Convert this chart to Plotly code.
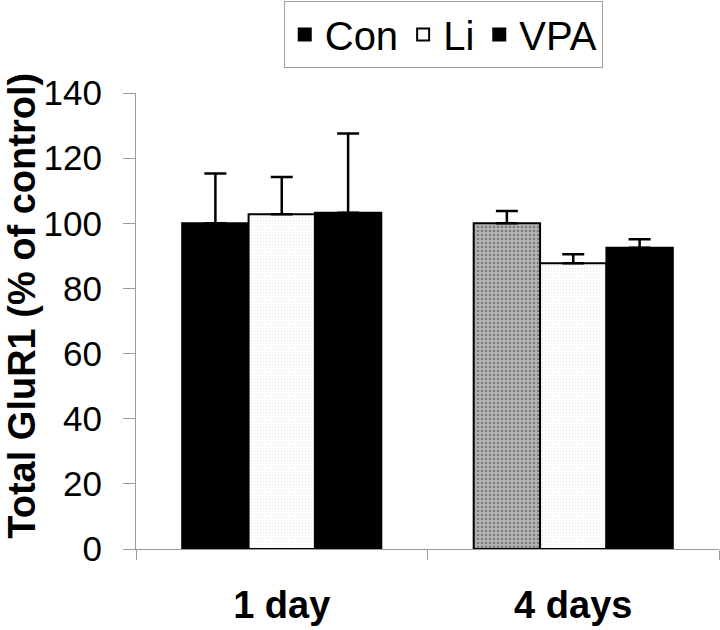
import plotly.graph_objects as go

categories = ["1 day", "4 days"]
series_names = ["Con", "Li", "VPA"]
con_values = [100.0, 100.0]
li_values = [102.8, 87.7]
vpa_values = [103.2, 92.5]
con_err = [15.3, 3.8]
li_err = [11.4, 2.8]
vpa_err = [24.4, 2.6]
y_ticks = [0, 20, 40, 60, 80, 100, 120, 140]
y_title = "Total GluR1 (% of control)"

FONT = "Liberation Sans, Arial, sans-serif"

fig = go.Figure()

def add_bar(name, vals, errs, color, pattern):
    fig.add_trace(go.Bar(
        name=name, x=categories, y=vals,
        marker=dict(color=color, line=dict(color="black", width=2), pattern=pattern),
        error_y=dict(type="data", symmetric=False, array=errs, arrayminus=[0] * len(errs),
                     color="black", thickness=2.5, width=11),
    ))

add_bar(series_names[0], con_values, con_err, ["#000000", "#b4b4b4"],
        dict(shape=["", "."], fgcolor="#666666", size=4, solidity=0.35, fillmode="overlay"))
add_bar(series_names[1], li_values, li_err, "#ffffff",
        dict(shape=".", fgcolor="#d8d8d8", size=3, solidity=0.2, fillmode="overlay"))
add_bar(series_names[2], vpa_values, vpa_err, "#000000", None)

fig.update_layout(
    width=720, height=630,
    margin=dict(l=136, r=1, t=93, b=81, autoexpand=False),
    paper_bgcolor="white", plot_bgcolor="white",
    barmode="group", bargap=0.317, bargroupgap=0,
    font=dict(family=FONT, color="black"),
    legend=dict(orientation="h", x=0.527, xanchor="center", y=1.202, yanchor="top",
                font=dict(size=40, family=FONT), bordercolor="#a0a0a0", borderwidth=1,
                bgcolor="white", itemsizing="constant"),
    showlegend=True,
    annotations=[dict(
        text="<b>" + y_title + "</b>", textangle=-90, xref="paper", yref="paper",
        x=-0.196, y=0.533, xanchor="center", yanchor="middle", showarrow=False,
        font=dict(size=38, family=FONT, color="black"),
    )],
)
fig.update_yaxes(
    range=[0, 140], tickvals=y_ticks, showgrid=False, zeroline=False, automargin=False,
    showline=True, linecolor="#9a9a9a", linewidth=1,
    ticks="outside", ticklen=12, tickcolor="#9a9a9a", ticklabelstandoff=14,
    tickfont=dict(size=35, family=FONT),
)
fig.update_xaxes(
    showgrid=False, zeroline=False, showline=True, linecolor="#9a9a9a", linewidth=1,
    automargin=False,
    ticks="outside", tickson="boundaries", ticklen=10, tickcolor="#9a9a9a",
    ticklabelstandoff=22,
    tickfont=dict(size=38, family=FONT, weight="bold"),
)

fig.write_html("out.html", config={"displayModeBar": False},
               post_script="document.body.style.margin='0';document.body.style.overflow='hidden';")
